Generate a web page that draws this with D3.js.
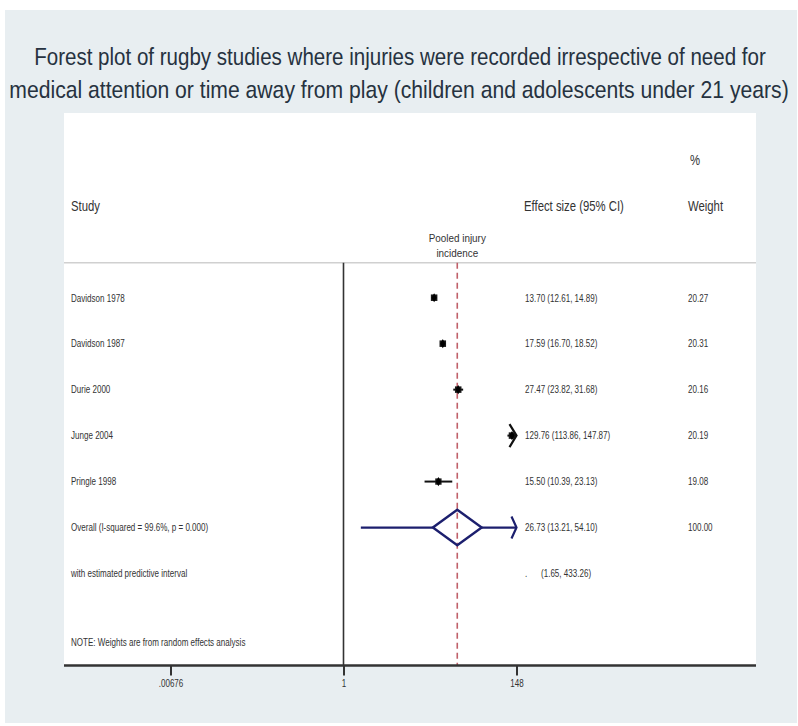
<!DOCTYPE html>
<html>
<head>
<meta charset="utf-8">
<script src="https://cdn.jsdelivr.net/npm/d3@7"></script>
<style>
  html, body { margin: 0; padding: 0; background: #ffffff; }
  svg { display: block; }
  text { font-family: "Liberation Sans", Arial, Helvetica, sans-serif; fill: #333333; }
</style>
</head>
<body>
<svg id="chart" width="798" height="726"></svg>
<script>
// ---- data ---------------------------------------------------------------
const studies   = ["Davidson 1978", "Davidson 1987", "Durie 2000", "Junge 2004", "Pringle 1998"];
const estimates = [13.70, 17.59, 27.47, 129.76, 15.50];
const ciLower   = [12.61, 16.70, 23.82, 113.86, 10.39];
const ciUpper   = [14.89, 18.52, 31.68, 147.87, 23.13];
const weights   = [20.27, 20.31, 20.16, 20.19, 19.08];

const overallLabel = "Overall  (I-squared = 99.6%, p = 0.000)";
const overallEstimate = [26.73];
const overallCI = [13.21, 54.10];
const overallWeight = ["100.00"];
const predictiveLabel = "with estimated predictive interval";
const predictiveInterval = [1.65, 433.26];
const noteText = "NOTE: Weights are from random effects analysis";

const axisMax = 147.87;                 // largest CI bound sets a symmetric log range
const tickValues = [1 / axisMax, 1, axisMax];
const tickLabels = [".00676", "1", "148"];

const titleLines = [
  "Forest plot of rugby studies where injuries were recorded irrespective of need for",
  "medical attention or time away from play (children and adolescents under 21 years)"
];

// ---- layout -------------------------------------------------------------
const svg = d3.select("#chart");
const plot = { left: 64, right: 756, top: 113, bottom: 665.5 };
const ciMin = 1 / axisMax, ciMax = axisMax;

const x = d3.scaleLog().domain([ciMin, ciMax]).range([170.5, 516.5]);
// rows: 0..4 studies, 5 overall, 6 predictive interval
const y = d3.scaleLinear().domain([0, 6]).range([297.7, 573.5]);

const fmt2 = d3.format(".2f");
const smallSize = 10.8, smallSx = 0.745;
const headSize = 14, headSx = 0.81;

function label(g, px, py, str, size, sx, anchor) {
  return g.append("text")
    .attr("transform", `translate(${px},${py}) scale(${sx},1)`)
    .attr("text-anchor", anchor || "start")
    .style("font-size", size + "px")
    .text(str);
}

// background panel and plot region
svg.append("rect").attr("x", 5).attr("y", 10).attr("width", 792).attr("height", 713)
  .attr("fill", "#e8eef1");
svg.append("rect").attr("x", plot.left).attr("y", plot.top)
  .attr("width", plot.right - plot.left).attr("height", plot.bottom - plot.top)
  .attr("fill", "#ffffff");

// title: each line is horizontally condensed to its target width
const titleSpans = [[34, 766], [9, 789]];
titleLines.forEach((t, i) => {
  const cx = (titleSpans[i][0] + titleSpans[i][1]) / 2;
  const el = svg.append("text")
    .attr("text-anchor", "middle")
    .style("font-size", "24px")
    .style("fill", "#263240")
    .text(t);
  const natural = el.node().getComputedTextLength();
  const sx = (titleSpans[i][1] - titleSpans[i][0]) / natural;
  el.attr("transform", `translate(${cx},${65 + i * 33}) scale(${sx},1)`);
});

const g = svg.append("g");

// column headers
label(g, 690, y(-3) + 5, "%", headSize, headSx);
label(g, 71, y(-2) + 5, "Study", headSize, headSx);
label(g, 524, y(-2) + 5, "Effect size (95% CI)", headSize, headSx);
label(g, 688, y(-2) + 5, "Weight", headSize, headSx);
label(g, x(overallEstimate[0]), 242, "Pooled injury", 11.8, 0.84, "middle");
label(g, x(overallEstimate[0]), 257, "incidence", 11.8, 0.84, "middle");

// separator under the headers
const lineTop = 262.7;
g.append("line").attr("x1", plot.left).attr("x2", plot.right)
  .attr("y1", lineTop).attr("y2", lineTop)
  .attr("stroke", "#d0d0d0").attr("stroke-width", 1.5);

// null line at 1 and pooled estimate line
g.append("line").attr("x1", x(1)).attr("x2", x(1))
  .attr("y1", lineTop).attr("y2", plot.bottom)
  .attr("stroke", "#333333").attr("stroke-width", 1.6);
g.append("line").attr("x1", x(overallEstimate[0])).attr("x2", x(overallEstimate[0]))
  .attr("y1", lineTop).attr("y2", plot.bottom)
  .attr("stroke", "#c0606a").attr("stroke-width", 1.6)
  .attr("stroke-dasharray", "6,4");

// chevron used when an interval runs past the axis range
function chevron(sel, px, py, color, w, h) {
  sel.append("path")
    .attr("d", `M${px - w},${py - h} L${px},${py} L${px - w},${py + h}`)
    .attr("fill", "none").attr("stroke", color).attr("stroke-width", 2.2)
    .attr("stroke-linejoin", "miter");
}

// study rows
studies.forEach((name, i) => {
  const cy = y(i);
  const lo = Math.max(ciLower[i], ciMin), hi = Math.min(ciUpper[i], ciMax);
  const row = g.append("g");
  row.append("line").attr("x1", x(lo)).attr("x2", x(hi))
    .attr("y1", cy).attr("y2", cy)
    .attr("stroke", "#111111").attr("stroke-width", 2);
  const side = 1.45 * Math.sqrt(weights[i]);
  row.append("rect")
    .attr("x", x(estimates[i]) - side / 2).attr("y", cy - side / 2)
    .attr("width", side).attr("height", side)
    .attr("fill", "#1a1a1a");
  row.append("path")
    .attr("d", d3.symbol(d3.symbolDiamond, 24)())
    .attr("transform", `translate(${x(estimates[i])},${cy})`)
    .attr("fill", "#000000");
  if (ciUpper[i] >= ciMax) chevron(row, x(ciMax), cy, "#111111", 7, 11.5);

  label(g, 71, cy + 3.8, name, smallSize, smallSx);
  label(g, 525, cy + 3.8,
    `${fmt2(estimates[i])} (${fmt2(ciLower[i])}, ${fmt2(ciUpper[i])})`, smallSize, smallSx);
  label(g, 688, cy + 3.8, fmt2(weights[i]), smallSize, smallSx);
});

// overall row: pooled diamond with predictive interval
{
  const cy = y(5), navy = "#1c1f6e";
  const xl = x(overallCI[0]), xr = x(overallCI[1]), xc = x(overallEstimate[0]);
  const piL = x(Math.max(predictiveInterval[0], ciMin));
  const piR = x(Math.min(predictiveInterval[1], ciMax));
  g.append("line").attr("x1", piL).attr("x2", xl).attr("y1", cy).attr("y2", cy)
    .attr("stroke", navy).attr("stroke-width", 2.2);
  g.append("line").attr("x1", xr).attr("x2", piR).attr("y1", cy).attr("y2", cy)
    .attr("stroke", navy).attr("stroke-width", 2.2);
  g.append("path")
    .attr("d", `M${xl},${cy} L${xc},${cy - 17.8} L${xr},${cy} L${xc},${cy + 17.8} Z`)
    .attr("fill", "none").attr("stroke", navy).attr("stroke-width", 2.4)
    .attr("stroke-linejoin", "miter");
  if (predictiveInterval[1] >= ciMax) chevron(g, piR, cy, navy, 5, 11);

  label(g, 71, cy + 3.8, overallLabel, smallSize, smallSx);
  label(g, 525, cy + 3.8,
    `${fmt2(overallEstimate[0])} (${fmt2(overallCI[0])}, ${fmt2(overallCI[1])})`, smallSize, smallSx);
  label(g, 688, cy + 3.8, overallWeight[0], smallSize, smallSx);
}

// predictive interval row
label(g, 71, y(6) + 3.8, predictiveLabel, smallSize, smallSx);
label(g, 525, y(6) + 3.8, ".", smallSize, smallSx);
label(g, 541, y(6) + 3.8,
  `(${fmt2(predictiveInterval[0])}, ${fmt2(predictiveInterval[1])})`, smallSize, smallSx);

// note
label(g, 71, y(7.5) + 3.8, noteText, smallSize, smallSx);

// x axis
const axis = d3.axisBottom(x)
  .tickValues(tickValues)
  .tickFormat((d, i) => tickLabels[i])
  .tickSize(10)
  .tickPadding(4);
const ax = svg.append("g").attr("transform", `translate(0,${plot.bottom})`).call(axis);
ax.select(".domain").remove();
ax.selectAll(".tick line").attr("stroke", "#333333").attr("stroke-width", 2);
ax.selectAll(".tick text")
  .attr("fill", "#333333")
  .style("font-family", "'Liberation Sans', Arial, sans-serif")
  .style("font-size", smallSize + "px")
  .attr("transform", `scale(${smallSx},1)`);
svg.append("line").attr("x1", plot.left).attr("x2", plot.right)
  .attr("y1", plot.bottom).attr("y2", plot.bottom)
  .attr("stroke", "#333333").attr("stroke-width", 2.6);
</script>
</body>
</html>
